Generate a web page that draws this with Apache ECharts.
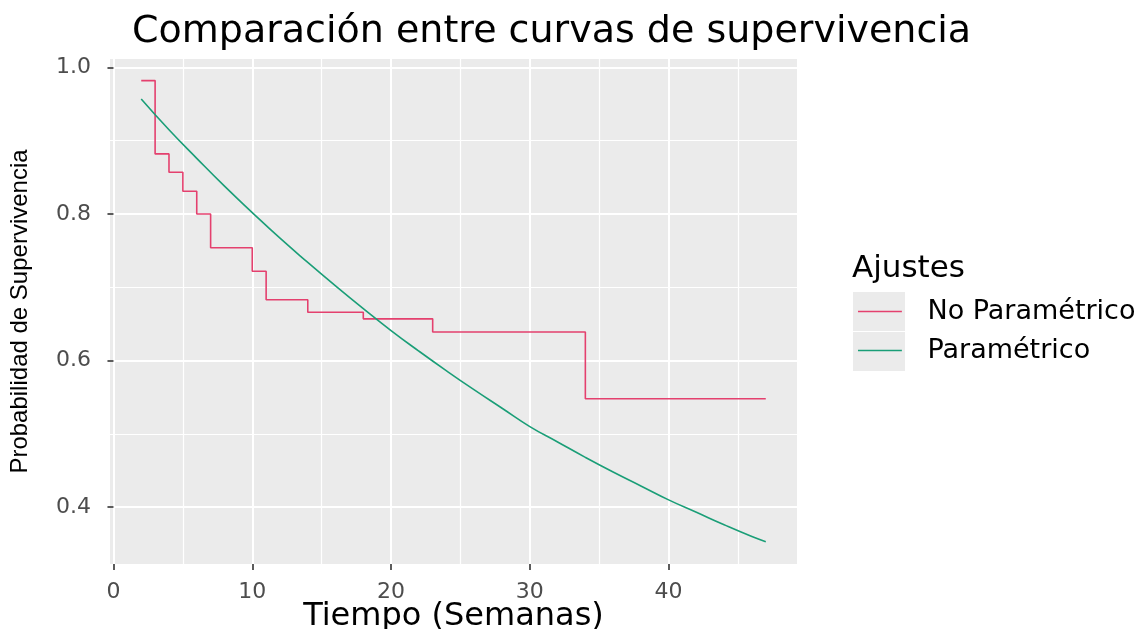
<!DOCTYPE html>
<html>
<head>
<meta charset="utf-8">
<script src="https://cdn.jsdelivr.net/npm/echarts@6/dist/echarts.min.js"></script>
<style>
html,body{margin:0;padding:0;background:#fff;}
#chart{width:1141px;height:629px;}
</style>
</head>
<body>
<div id="chart"></div>
<script>
// Kaplan-Meier (no paramétrico) step points: time, survival
const kmTimes = [2, 3, 4, 5, 6, 7, 10, 11, 14, 18, 23, 34, 47];
const kmValues = [0.982, 0.882, 0.857, 0.831, 0.800, 0.754, 0.722, 0.683, 0.666, 0.657, 0.639, 0.548, 0.548];
// Parametric curve
const parTimes = [2, 4, 6, 8, 10, 12, 14, 16, 18, 20, 22, 24, 26, 28, 30, 32, 34, 36, 38, 40, 42, 44, 46, 47];
const parValues = [0.957, 0.915, 0.876, 0.838, 0.802, 0.767, 0.734, 0.702, 0.671, 0.641, 0.613, 0.586, 0.560, 0.535, 0.510, 0.489, 0.468, 0.448, 0.429, 0.410, 0.393, 0.376, 0.360, 0.353];
const xTicks = [0, 10, 20, 30, 40];
const yTicks = [0.4, 0.6, 0.8, 1.0];
const seriesNames = ['No Paramétrico', 'Paramétrico'];
const titleText = 'Comparación entre curvas de supervivencia';
const xTitle = 'Tiempo (Semanas)';
const yTitle = 'Probabilidad de Supervivencia';
const legendTitle = 'Ajustes';

const chart = echarts.init(document.getElementById('chart'));
const km = kmTimes.map((t, i) => [t, kmValues[i]]);
const par = parTimes.map((t, i) => [t, parValues[i]]);
const lineIcon = 'path://M0,0L0.1,0L0.1,0.1ZM0,19.2H45V20.8H0ZM0,40L0.1,40L0.1,39.9Z';

chart.setOption({
  backgroundColor: '#ffffff',
  animation: false,
  title: {
    text: titleText,
    left: 132,
    top: 13,
    padding: 0,
    textStyle: {fontFamily: 'DejaVu Sans', fontSize: 38, fontWeight: 'normal', color: '#000'}
  },
  grid: {
    left: 110, top: 59, width: 687, height: 505,
    outerBoundsMode: 'none', containLabel: false,
    show: true, backgroundColor: '#ebebeb', borderWidth: 0
  },
  xAxis: {
    type: 'value', min: -0.25, max: 49.25, splitNumber: 5,
    name: xTitle, nameLocation: 'middle', nameGap: 37, nameMoveOverlap: false,
    nameTextStyle: {fontFamily: 'DejaVu Sans', fontSize: 32, color: '#000'},
    axisLine: {show: false},
    axisTick: {show: true, length: 6, customValues: xTicks, lineStyle: {color: '#333', width: 1.6}},
    axisLabel: {margin: 17, customValues: xTicks, fontFamily: 'DejaVu Sans', fontSize: 22, color: '#4d4d4d'},
    splitLine: {show: true, lineStyle: {color: '#ffffff', width: 2}},
    minorTick: {show: false, splitNumber: 2},
    minorSplitLine: {show: true, lineStyle: {color: '#ffffff', width: 1.2}}
  },
  yAxis: {
    type: 'value', min: 0.3225, max: 1.0115, splitNumber: 3,
    name: yTitle, nameLocation: 'middle', nameGap: 78, nameRotate: 90,
    nameTextStyle: {fontFamily: 'Liberation Sans', fontSize: 24, color: '#000'},
    axisLine: {show: false},
    axisTick: {show: true, length: 6, customValues: yTicks, lineStyle: {color: '#333', width: 1.6}},
    axisLabel: {margin: 19, customValues: yTicks, fontFamily: 'DejaVu Sans', fontSize: 22, color: '#4d4d4d',
      formatter: v => v.toFixed(1)},
    splitLine: {show: true, lineStyle: {color: '#ffffff', width: 2}},
    minorTick: {show: false, splitNumber: 2},
    minorSplitLine: {show: true, lineStyle: {color: '#ffffff', width: 1.2}}
  },
  legend: {
    orient: 'vertical', left: 858, top: 292, padding: 0,
    itemWidth: 45, itemHeight: 39, itemGap: 0,
    data: seriesNames.map(n => ({name: n, icon: lineIcon})),
    textStyle: {fontFamily: 'DejaVu Sans', fontSize: 27, color: '#000', padding: [0, 0, 0, 20]}
  },
  graphic: [
    {type: 'rect', z: -1, shape: {x: 853, y: 292, width: 52, height: 39}, style: {fill: '#ebebeb'}},
    {type: 'rect', z: -1, shape: {x: 853, y: 332, width: 52, height: 39}, style: {fill: '#ebebeb'}},
    {type: 'text', x: 852, y: 269, style: {text: legendTitle, fontFamily: 'DejaVu Sans', fontSize: 31, fill: '#000', verticalAlign: 'middle'}}
  ],
  series: [
    {name: seriesNames[0], type: 'line', step: 'end', data: km, symbol: 'none',
      lineStyle: {color: '#e4406e', width: 1.6}, itemStyle: {color: '#e4406e'}},
    {name: seriesNames[1], type: 'line', smooth: true, data: par, symbol: 'none',
      lineStyle: {color: '#1a9e77', width: 1.6}, itemStyle: {color: '#1a9e77'}}
  ]
});
</script>
</body>
</html>
